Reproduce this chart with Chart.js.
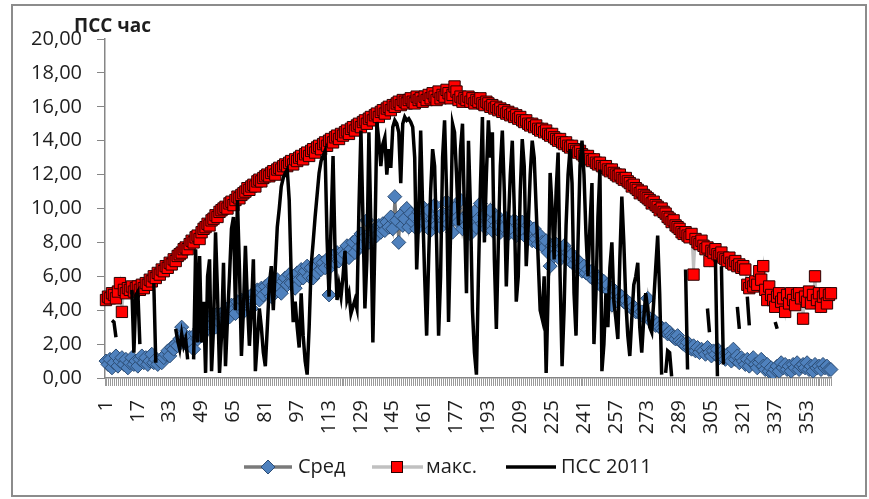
<!DOCTYPE html>
<html><head><meta charset="utf-8">
<script src="https://cdn.jsdelivr.net/npm/chart.js@4.4.1/dist/chart.umd.min.js"></script>
<style>html,body{margin:0;padding:0;background:#fff}#wrap{width:869px;height:499px;position:relative}</style>
</head><body><div id="wrap"><canvas id="c" width="869" height="499"></canvas></div>
<script>
// Categories: day of year 1..365
const days = [];
for (let d = 1; d <= 365; d++) days.push(String(d));

const yTitle = 'ПСС час';
const seriesNames = ['Сред', 'макс.', 'ПСС 2011'];

// "Сред" (average)
const sred = [
1.0,0.8,1.1,0.6,0.9,1.3,0.7,1.0,1.2,0.8,
1.1,0.6,0.9,1.2,0.8,1.0,0.7,1.1,1.3,0.9,
1.2,0.8,1.0,1.4,0.9,1.1,0.8,1.0,0.9,1.2,
1.4,1.6,1.3,1.8,1.7,2.0,1.9,2.3,3.0,2.6,
2.2,1.9,2.4,2.1,1.7,2.6,2.3,2.9,2.5,3.2,
2.8,3.4,3.6,3.1,3.5,3.0,3.8,3.3,3.6,3.9,
3.7,4.1,3.6,4.3,4.0,3.8,4.5,4.2,4.6,3.9,
4.4,4.8,4.5,4.1,5.0,4.7,5.2,4.6,5.3,4.9,
5.4,5.1,5.6,4.8,5.5,5.2,5.8,5.4,5.0,5.7,
5.9,5.5,6.1,5.6,6.0,5.3,6.2,5.8,6.4,5.9,
6.3,6.6,6.0,6.5,5.9,6.7,6.2,6.9,6.4,6.8,
6.5,7.0,4.9,6.6,7.2,6.8,7.4,6.9,7.1,7.5,
7.3,7.8,7.1,7.6,8.0,7.4,8.2,7.7,8.5,7.9,
8.3,9.3,8.0,8.6,8.2,8.8,8.4,9.0,8.6,9.1,
8.7,9.2,8.9,9.5,8.8,10.7,9.3,8.0,9.6,9.0,
9.4,10.0,8.9,9.7,9.2,9.5,8.8,9.8,9.3,10.1,
9.2,9.6,9.9,8.7,9.4,10.2,9.0,9.5,8.9,9.7,
9.3,10.4,9.1,9.8,8.6,10.0,9.4,9.2,10.5,8.8,
9.5,9.0,9.7,8.5,9.3,9.8,8.9,9.4,10.3,9.1,
9.6,8.8,9.2,9.9,8.7,9.3,9.0,9.5,8.6,9.2,
8.9,9.4,8.5,9.1,8.8,9.3,8.4,9.0,8.6,9.2,
8.7,8.3,9.0,8.5,8.1,8.8,8.2,7.9,8.4,8.0,
7.7,8.1,7.4,6.6,7.8,7.2,7.9,7.5,7.0,7.6,
7.8,7.1,7.4,6.9,7.3,6.7,7.0,6.5,6.8,6.3,
6.6,6.2,6.4,6.0,6.3,5.8,6.1,5.6,5.9,5.4,
5.7,5.3,5.5,5.1,4.3,5.2,4.9,5.0,4.7,4.8,
4.5,4.6,4.3,4.4,4.1,4.2,3.9,4.0,3.8,3.9,
3.6,3.7,4.7,3.5,3.3,3.4,3.1,3.2,3.0,2.9,
2.8,2.9,2.6,2.7,2.5,2.4,2.3,2.5,2.2,2.1,
2.0,1.9,2.1,1.8,1.7,1.9,1.6,1.8,1.5,1.7,
1.6,1.4,1.8,1.5,1.3,1.6,1.4,1.7,1.2,1.5,
1.3,1.1,1.4,1.2,1.0,1.7,1.1,1.3,0.9,1.2,
1.0,0.8,1.1,0.7,1.0,1.2,0.8,0.6,0.9,1.1,
0.7,0.5,0.8,0.4,0.6,0.3,0.5,0.7,0.4,0.9,
0.6,0.8,0.5,0.7,0.4,0.8,0.6,0.9,0.5,0.7,
0.8,0.6,0.9,0.5,0.7,0.4,0.8,0.6,0.7,0.5,
0.8,0.6,0.7,0.5,0.5
];

// "макс." (maximum)
const maks = [
4.6,4.8,4.7,5.0,4.9,4.7,5.1,5.6,3.9,5.2,
5.0,5.3,5.2,5.4,5.1,5.3,5.4,5.2,5.5,5.3,
5.6,5.5,5.8,5.7,6.0,5.9,6.2,6.1,6.4,6.3,
6.6,6.5,6.8,6.7,7.0,6.9,7.2,7.3,7.4,7.6,
7.7,7.6,7.9,8.1,8.0,8.3,8.4,8.2,8.6,8.8,
8.9,9.1,9.0,9.3,9.4,9.6,9.5,9.8,9.9,10.0,
10.1,10.0,10.3,10.4,10.2,10.5,10.7,10.6,10.8,10.9,
11.0,11.2,11.1,11.3,11.4,11.3,11.6,11.7,11.6,11.8,
11.9,12.0,11.9,12.1,12.2,12.0,12.3,12.4,12.3,12.5,
12.6,12.5,12.7,12.8,12.6,12.9,12.8,13.0,13.1,12.9,
13.2,13.3,13.1,13.4,13.5,13.3,13.6,13.7,13.5,13.8,
13.9,13.7,14.0,14.1,13.9,14.2,14.3,14.1,14.4,14.3,
14.5,14.6,14.4,14.7,14.8,14.6,14.9,15.0,14.8,15.1,
15.2,15.0,15.3,15.4,15.2,15.5,15.6,15.4,15.7,15.8,
15.6,15.9,16.0,15.8,16.1,16.0,16.2,16.3,16.1,16.4,
16.3,16.2,16.4,16.5,16.3,16.2,16.6,16.4,16.5,16.3,
16.6,16.4,16.7,16.5,16.8,16.6,16.4,16.9,16.5,16.7,
16.6,17.0,16.8,16.5,16.7,17.2,16.9,16.4,16.6,16.3,
16.5,16.4,16.6,16.3,16.5,16.2,16.4,16.3,16.5,16.2,
16.1,16.3,16.2,16.0,16.1,15.9,16.0,15.8,15.9,15.7,
15.8,15.6,15.7,15.5,15.6,15.4,15.5,15.3,15.4,15.2,
15.1,15.2,15.0,14.9,15.0,14.8,14.9,14.7,14.6,14.7,
14.5,14.6,14.4,14.3,14.4,14.2,14.1,14.0,14.1,13.9,
13.8,13.9,13.7,13.6,13.7,13.5,13.4,13.3,13.4,13.2,
13.1,13.0,13.1,12.9,12.8,12.9,12.7,12.6,12.7,12.5,
12.4,12.5,12.3,12.2,12.3,12.1,12.0,11.9,12.0,11.8,
11.7,11.8,11.6,11.5,11.3,11.4,11.2,11.1,10.9,11.0,
10.8,10.7,10.6,10.5,10.3,10.4,10.2,10.1,9.9,10.0,
9.8,9.7,9.5,9.4,9.2,9.3,9.0,8.9,8.8,8.6,
8.5,8.6,8.4,8.3,8.5,6.1,8.2,8.0,7.9,8.1,
7.8,7.6,7.7,6.9,7.5,7.4,7.6,7.3,7.2,7.4,
7.1,7.0,6.9,7.1,6.8,6.7,6.9,6.6,6.7,6.5,
6.6,6.4,5.5,5.3,5.6,5.4,5.7,5.5,6.3,5.8,
6.6,5.2,4.6,5.4,4.9,4.6,4.2,4.8,5.0,4.5,
4.7,3.9,4.9,4.4,5.0,4.6,4.3,4.9,5.0,4.7,
3.5,4.8,4.5,5.1,4.4,4.9,6.0,4.6,5.0,4.2,
4.8,5.0,4.4,4.9,5.0
];

// "ПСС 2011" (null = no data)
const pss2011 = [
null,null,null,3.4,3.3,2.4,null,null,null,null,
null,null,null,5.2,1.5,4.9,5.1,2.0,null,null,
null,null,null,null,5.6,0.9,null,null,null,null,
null,null,null,null,null,2.9,2.2,1.7,2.6,1.9,
2.3,1.1,null,null,1.1,7.6,2.1,7.2,2.1,4.5,
0.3,6.0,7.0,0.4,3.0,8.6,5.0,0.3,2.5,6.8,
0.7,3.5,6.0,8.8,9.5,4.0,10.5,6.5,1.3,4.0,
7.8,4.5,1.9,4.0,7.0,0.4,2.2,4.1,3.0,1.5,
0.7,3.0,5.5,6.6,4.0,6.5,8.9,10.0,11.3,11.8,
12.1,12.3,10.5,6.0,3.3,4.5,3.0,1.8,5.0,2.5,
1.0,0.2,3.0,6.6,8.0,9.5,10.8,12.1,12.8,13.1,
13.4,8.2,4.8,9.0,13.1,7.5,4.6,5.5,4.8,6.0,
7.5,4.6,5.0,3.8,4.2,4.6,4.1,10.0,14.6,9.5,
4.1,7.0,14.5,9.0,2.1,8.0,15.1,14.0,12.5,13.8,
14.2,12.0,13.5,12.4,14.8,15.2,15.0,14.5,11.5,15.0,
15.4,15.2,15.3,15.1,14.8,13.0,6.4,9.5,14.6,10.0,
6.0,2.5,7.0,11.0,13.5,12.5,8.0,2.5,6.0,13.0,
15.2,11.0,3.3,8.5,15.0,14.5,12.0,9.0,13.5,15.0,
9.5,5.0,14.0,10.0,4.0,1.5,0.2,6.0,11.3,15.4,
8.0,12.0,15.2,13.0,14.5,7.0,2.9,8.0,12.5,14.6,
11.0,5.4,9.0,12.0,14.0,10.0,4.5,6.0,11.0,14.1,
12.5,6.6,9.0,12.0,14.0,13.0,10.0,7.0,4.0,3.5,
6.0,0.3,5.0,12.1,10.0,7.0,11.0,13.3,6.0,0.7,
4.0,9.0,12.0,13.5,11.5,5.0,2.5,8.0,12.5,14.0,
12.0,8.5,6.0,9.0,11.5,2.0,5.0,9.5,12.3,0.4,
2.0,5.0,3.0,6.5,8.0,4.5,3.5,2.3,7.0,10.7,
8.0,4.5,2.5,1.3,3.5,5.5,6.0,6.8,3.0,1.5,
3.5,5.0,4.0,3.0,2.7,4.5,6.5,8.4,5.0,0.2,
null,0.3,1.6,1.5,0.1,null,null,null,null,null,
null,6.4,0.5,null,null,null,null,null,null,null,
null,null,4.1,2.7,null,null,7.0,0.1,null,6.6,
0.8,null,null,null,null,null,null,4.2,2.9,null,
null,null,4.8,3.1,null,null,null,null,null,null,
null,null,null,null,null,null,3.3,2.9,null,null,
null,null,null,null,null,null,null,null,null,null,
null,null,null,null,null,null,null,null,null,null,
null,null,null,null,null
];

const FONT = "'Open Sans', 'DejaVu Sans', sans-serif";
const TXT = '#1e1e1e';
const BLUE = '#4f81bd', BLUE_EDGE = '#2c4d75', SRED_LINE = '#7a7a7a';
const RED = '#ff0000', RED_EDGE = '#2a0000', MAKS_LINE = '#c0c0c0';

const decor = {
  id: 'decor',
  beforeDraw(c) {
    const g = c.ctx; g.save(); g.fillStyle = '#fff'; g.fillRect(0, 0, c.width, c.height); g.restore();
  },
  afterDraw(c) {
    const g = c.ctx; g.save();
    // outer frame
    g.strokeStyle = '#8c8c8c'; g.lineWidth = 2;
    g.strokeRect(12, 5, 854, 491);
    // y-axis title
    g.fillStyle = TXT; g.font = "bold 19px " + FONT; g.textBaseline = 'alphabetic'; g.textAlign = 'left';
    g.fillText(yTitle, c.chartArea.left - 31, c.chartArea.top - 7);
    // legend
    const ly = 467;
    g.font = "20px " + FONT; g.textBaseline = 'middle';
    // Сред
    g.strokeStyle = SRED_LINE; g.lineWidth = 3.5; g.beginPath(); g.moveTo(244, ly); g.lineTo(292, ly); g.stroke();
    g.beginPath(); g.moveTo(268, ly - 7); g.lineTo(275, ly); g.lineTo(268, ly + 7); g.lineTo(261, ly); g.closePath();
    g.fillStyle = BLUE; g.fill(); g.strokeStyle = BLUE_EDGE; g.lineWidth = 1; g.stroke();
    g.fillStyle = TXT; g.fillText(seriesNames[0], 298, ly);
    // макс.
    g.strokeStyle = MAKS_LINE; g.lineWidth = 3.5; g.beginPath(); g.moveTo(372, ly); g.lineTo(423, ly); g.stroke();
    g.fillStyle = RED; g.fillRect(391.5, ly - 5.5, 11, 11); g.strokeStyle = RED_EDGE; g.lineWidth = 1; g.strokeRect(391.5, ly - 5.5, 11, 11);
    g.fillStyle = TXT; g.fillText(seriesNames[1], 426, ly);
    // ПСС 2011
    g.strokeStyle = '#000'; g.lineWidth = 3.5; g.beginPath(); g.moveTo(506, ly); g.lineTo(556, ly); g.stroke();
    g.fillStyle = TXT; g.fillText(seriesNames[2], 561, ly);
    g.restore();
  }
};

new Chart(document.getElementById('c'), {
  type: 'line',
  data: {
    labels: days,
    datasets: [
      { label: seriesNames[0], data: sred, borderColor: SRED_LINE, borderWidth: 2.5, tension: 0,
        pointStyle: 'rectRot', pointRadius: 7, pointBackgroundColor: BLUE, pointBorderColor: BLUE_EDGE, pointBorderWidth: 1, order: 3 },
      { label: seriesNames[1], data: maks, borderColor: MAKS_LINE, borderWidth: 2.5, tension: 0,
        pointStyle: 'rect', pointRadius: 8, pointBackgroundColor: RED, pointBorderColor: RED_EDGE, pointBorderWidth: 1, order: 2 },
      { label: seriesNames[2], data: pss2011, borderColor: '#000', borderWidth: 3.5, tension: 0,
        pointRadius: 0, spanGaps: false, order: 1 }
    ]
  },
  options: {
    responsive: false, animation: false,
    layout: { padding: { left: 20, right: 34, top: 39, bottom: 52 } },
    plugins: { legend: { display: false }, tooltip: { enabled: false } },
    scales: {
      x: {
        offset: true,
        grid: { offset: true, drawOnChartArea: false, drawTicks: true, tickLength: 8, color: '#9a9a9a' },
        border: { color: '#868686', width: 1.5 },
        ticks: { autoSkip: false, maxRotation: 90, minRotation: 90, padding: 14, color: TXT,
          font: { family: FONT, size: 20 },
          callback(v, i) { return i % 16 === 0 ? this.getLabelForValue(v) : ''; } },
        afterFit(s) { s.height = 69; }
      },
      y: {
        min: 0, max: 20,
        grid: { drawOnChartArea: false, drawTicks: true, tickLength: 8, color: '#868686' },
        border: { color: '#868686', width: 1.5 },
        ticks: { stepSize: 2, padding: 15, color: TXT, font: { family: FONT, size: 20 },
          callback: v => v.toFixed(2).replace('.', ',') },
        afterFit(s) { s.width = 85; }
      }
    }
  },
  plugins: [decor]
});
</script></body></html>
